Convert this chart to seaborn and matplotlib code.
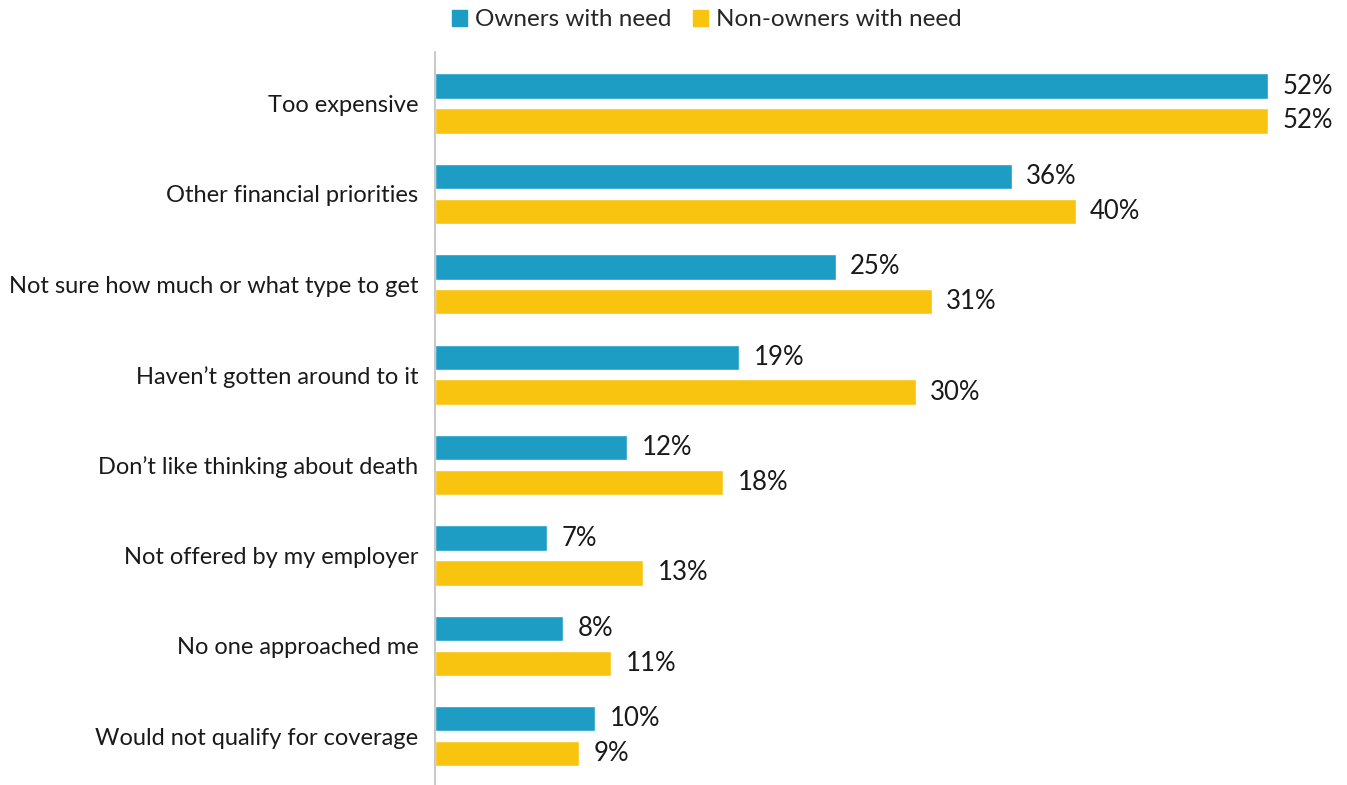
import matplotlib
matplotlib.use("Agg")
import matplotlib.pyplot as plt
import seaborn as sns
import pandas as pd

categories = [
    "Too expensive",
    "Other financial priorities",
    "Not sure how much or what type to get",
    "Haven\u2019t gotten around to it",
    "Don\u2019t like thinking about death",
    "Not offered by my employer",
    "No one approached me",
    "Would not qualify for coverage",
]
owners = [52, 36, 25, 19, 12, 7, 8, 10]
non_owners = [52, 40, 31, 30, 18, 13, 11, 9]
series_names = ["Owners with need", "Non-owners with need"]
colors = ["#1D9DC4", "#F8C40F"]

df = pd.DataFrame({
    "reason": categories * 2,
    "pct": owners + non_owners,
    "group": [series_names[0]] * len(categories) + [series_names[1]] * len(categories),
})

sns.set_style("white")
plt.rcParams["font.family"] = ["Lato", "DejaVu Sans"]

W, H = 1347, 785
fig = plt.figure(figsize=(W / 100, H / 100), dpi=100)
ax = fig.add_axes([435 / W, 0, (W - 435) / W, (H - 52) / H])

sns.barplot(data=df, y="reason", x="pct", hue="group", order=categories,
            hue_order=series_names, palette=colors, orient="h",
            width=0.77, gap=0.27, ax=ax, legend=False, saturation=1)

ax.set_xlim(0, (W - 435) / 16.02)
ax.set_ylim(7.54, -0.57)
ax.set_xlabel("")
ax.set_ylabel("")
ax.set_xticks([])
ax.tick_params(axis="y", length=0, pad=12, labelsize=17, labelcolor="#1a1a1a")
for s in ["top", "right", "bottom"]:
    ax.spines[s].set_visible(False)
ax.spines["left"].set_color("#BFBFBF")
ax.spines["left"].set_linewidth(1.2)

for cont in ax.containers:
    for bar in cont:
        v = bar.get_width()
        ax.text(v + 0.9, bar.get_y() + bar.get_height() / 2, f"{v:.0f}%",
                va="center", ha="left", fontsize=18.5, color="#1a1a1a")

handles = [plt.Rectangle((0, 0), 1, 1, color=c) for c in colors]
fig.legend(handles, series_names, loc="center", bbox_to_anchor=(707 / W, 1 - 20 / H),
           ncol=2, frameon=False, fontsize=17.5, handlelength=0.6, handleheight=0.6,
           handletextpad=0.35, columnspacing=0.9)

fig.savefig("out.png", dpi=100)
